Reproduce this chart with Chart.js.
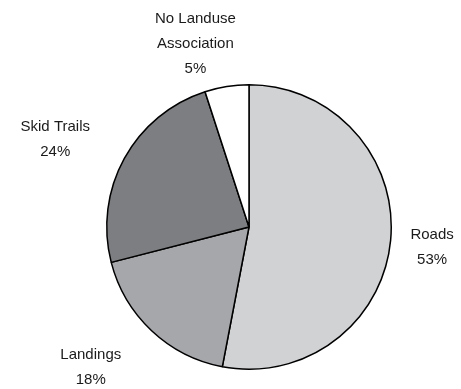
<!DOCTYPE html>
<html>
<head>
<meta charset="utf-8">
<script src="https://cdn.jsdelivr.net/npm/chart.js@4"></script>
<style>
 html,body{margin:0;padding:0;background:#fff;}
 #wrap{width:461px;height:389px;position:relative;}
</style>
</head>
<body>
<div id="wrap"><canvas id="pie"></canvas></div>
<script>
// slice data, clockwise from 12 o'clock
const categories=[["Roads"],["Landings"],["Skid Trails"],["No Landuse","Association"]];
const shares=[53,18,24,5];
const fills=["#d1d2d4","#a6a7aa","#7d7e81","#ffffff"];
// small hand nudges for the outside labels (px), same order as categories
const labelNudge=[[1,3],[-27,5],[-22,2],[-22,13]];

const outsideLabels={
 id:"outsideLabels",
 afterDatasetsDraw(chart){
  const ctx=chart.ctx;
  const meta=chart.getDatasetMeta(0);
  ctx.save();
  ctx.font="15px 'Liberation Sans', Arial, sans-serif";
  ctx.fillStyle="#1a1a1a";
  ctx.textAlign="center";
  ctx.textBaseline="middle";
  const lh=25;
  meta.data.forEach((arc,i)=>{
   const p=arc.getProps(["x","y","startAngle","endAngle","outerRadius"],true);
   const mid=(p.startAngle+p.endAngle)/2;
   const cx=Math.cos(mid), cy=Math.sin(mid);
   const lines=categories[i].concat([shares[i]+"%"]);
   const w=Math.max(...lines.map(t=>ctx.measureText(t).width));
   const h=lines.length*lh;
   const r=p.outerRadius+19;
   const x=p.x+r*cx+cx*w/2+labelNudge[i][0];
   const y=p.y+r*cy+cy*h/2+labelNudge[i][1];
   lines.forEach((t,k)=>{
    ctx.fillText(t,x,y-h/2+lh/2+k*lh);
   });
  });
  ctx.restore();
 }
};

new Chart(document.getElementById("pie"),{
 type:"pie",
 data:{
  labels:categories.map(c=>c.join(" ")),
  datasets:[{
   data:shares,
   backgroundColor:fills,
   borderColor:"#000",
   borderWidth:1.5
  }]
 },
 options:{
  responsive:true,
  maintainAspectRatio:false,
  animation:false,
  layout:{padding:{left:106,right:69,top:84,bottom:19}},
  plugins:{legend:{display:false},tooltip:{enabled:false}}
 },
 plugins:[outsideLabels]
});
</script>
</body>
</html>
